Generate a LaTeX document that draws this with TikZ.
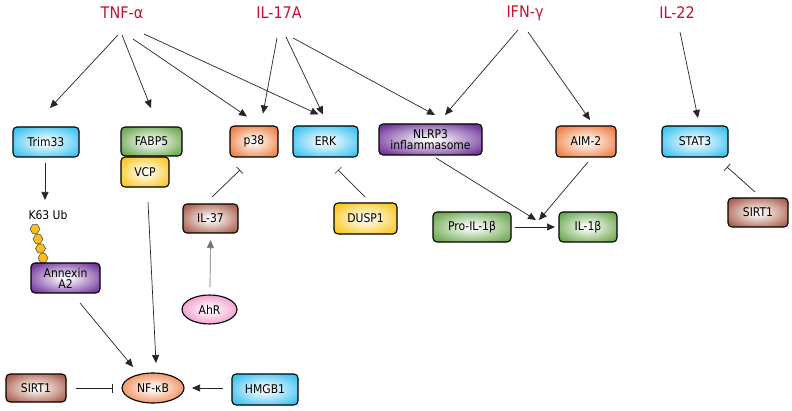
\documentclass[tikz,border=0pt]{standalone}
\usepackage{fontspec}
\setmainfont{DejaVu Sans Condensed}
\usetikzlibrary{arrows.meta,shapes.geometric}
\definecolor{cyanc}{RGB}{60,194,240}
\definecolor{greenc}{RGB}{108,168,80}
\definecolor{yellowc}{RGB}{250,198,30}
\definecolor{orangec}{RGB}{238,126,66}
\definecolor{purplec}{RGB}{116,56,156}
\definecolor{brownc}{RGB}{170,96,76}
\definecolor{pinkc}{RGB}{238,140,196}
\definecolor{redc}{RGB}{200,16,46}
\pgfdeclareradialshading{shcyan}{\pgfpoint{0bp}{0bp}}{color(0bp)=(white); color(2bp)=(white); color(31bp)=(cyanc); color(50bp)=(cyanc)}
\pgfdeclareradialshading{shgreen}{\pgfpoint{0bp}{0bp}}{color(0bp)=(white); color(2bp)=(white); color(31bp)=(greenc); color(50bp)=(greenc)}
\pgfdeclareradialshading{shyellow}{\pgfpoint{0bp}{0bp}}{color(0bp)=(white); color(2bp)=(white); color(31bp)=(yellowc); color(50bp)=(yellowc)}
\pgfdeclareradialshading{shorange}{\pgfpoint{0bp}{0bp}}{color(0bp)=(white); color(2bp)=(white); color(31bp)=(orangec); color(50bp)=(orangec)}
\pgfdeclareradialshading{shpurple}{\pgfpoint{0bp}{0bp}}{color(0bp)=(white); color(2bp)=(white); color(31bp)=(purplec); color(50bp)=(purplec)}
\pgfdeclareradialshading{shbrown}{\pgfpoint{0bp}{0bp}}{color(0bp)=(white); color(2bp)=(white); color(31bp)=(brownc); color(50bp)=(brownc)}
\pgfdeclareradialshading{shpink}{\pgfpoint{0bp}{0bp}}{color(0bp)=(white); color(2bp)=(white); color(31bp)=(pinkc); color(50bp)=(pinkc)}
\tikzset{
  box/.style={rounded corners=4pt, draw=black, line width=1.1pt, inner sep=0pt,
    font=\fontsize{12}{13}\selectfont, align=center},
  cyanbox/.style={box, shading=shcyan},
  greenbox/.style={box, shading=shgreen},
  yellowbox/.style={box, shading=shyellow},
  orangebox/.style={box, shading=shorange},
  purplebox/.style={box, shading=shpurple},
  brownbox/.style={box, shading=shbrown},
  oval/.style={ellipse, draw=black, line width=1.1pt, inner sep=0pt,
    font=\fontsize{12}{13}\selectfont},
  arr/.style={draw=black!85, line width=0.7pt, -{Triangle[length=8pt,width=7pt]}},
  inh/.style={draw=black!85, line width=0.7pt, -{Bar[width=9pt]}},
  lab/.style={text=redc, font=\fontsize{16}{18}\selectfont, inner sep=0pt},
  plain/.style={font=\fontsize{12}{13}\selectfont, inner sep=0pt},
  hexa/.style={regular polygon, regular polygon sides=6, minimum size=10pt,
    inner sep=0pt, draw=black!75, line width=0.5pt, fill=yellowc!90!orange},
}
\begin{document}
\begin{tikzpicture}[x=1pt,y=-1pt]
\fill[white] (0,0) rectangle (792,411);
\useasboundingbox (0,0) rectangle (792,411);

% top labels
\node[lab] (tnf) at (122,13) {TNF-α};
\node[lab] (il17) at (279,13) {IL-17A};
\node[lab] (ifn) at (525,13) {IFN-γ};
\node[lab] (il22) at (677,13) {IL-22};

% row 1
\node[cyanbox, minimum width=66pt, minimum height=30pt] (trim) at (46,142) {Trim33};
\node[greenbox, minimum width=61pt, minimum height=29pt] (fabp) at (151.5,141.5) {FABP5};
\node[yellowbox, minimum width=48pt, minimum height=30pt] (vcp) at (145,172) {VCP};
\node[orangebox, minimum width=48pt, minimum height=31pt] (p38) at (254,141.5) {p38};
\node[cyanbox, minimum width=65pt, minimum height=31pt] (erk) at (325.5,141.5) {ERK};
\node[purplebox, minimum width=103pt, minimum height=31pt] (nlrp) at (430.5,139.5) {NLRP3\\[-2pt]inflammasome};
\node[orangebox, minimum width=60pt, minimum height=31pt] (aim) at (586,141.5) {AIM-2};
\node[cyanbox, minimum width=66pt, minimum height=31pt] (stat) at (695,141.5) {STAT3};

% row 2
\node[plain] (k63) at (48,215) {K63 Ub};
\node[brownbox, minimum width=55pt, minimum height=29pt] (il37) at (210.5,218.5) {IL-37};
\node[yellowbox, minimum width=63pt, minimum height=31pt] (dusp) at (365.5,218.5) {DUSP1};
\node[greenbox, minimum width=78pt, minimum height=30pt] (pro) at (472,227) {Pro-IL-1β};
\node[greenbox, minimum width=58pt, minimum height=30pt] (il1b) at (588,227) {IL-1β};
\node[brownbox, minimum width=60pt, minimum height=29pt] (sirtr) at (758,212.5) {SIRT1};

% ubiquitin chain
\node[hexa] (hx1) at (35,229) {};
\node[hexa] (hx2) at (38,239) {};
\node[hexa] (hx3) at (40.5,248.5) {};
\node[hexa] (hx4) at (43,258) {};
\node[purplebox, minimum width=69pt, minimum height=30pt] (anx) at (65.5,278) {Annexin\\[-2pt]A2};

% lower
\node[oval, minimum width=55pt, minimum height=29pt, shading=shpink] (ahr) at (209.5,309.5) {AhR};
\node[oval, minimum width=62pt, minimum height=30pt, shading=shorange] (nfkb) at (153,388) {NF-κB};
\node[brownbox, minimum width=60pt, minimum height=28pt] (sirtl) at (36,388) {SIRT1};
\node[cyanbox, minimum width=66pt, minimum height=31pt] (hmgb) at (265,389.5) {HMGB1};

% TNF-alpha connectors
\draw[arr] ([shift={(-4,22)}]tnf.center) -- ([shift={(4,-34)}]trim.center);
\draw[arr] ([shift={(0,22)}]tnf.center) -- ([shift={(-0.5,-33.5)}]fabp.center);
\draw[arr] ([shift={(11,26)}]tnf.center) -- ([shift={(-7,-25)}]p38.center);
\draw[arr] ([shift={(22,21)}]tnf.center) -- ([shift={(-7,-27)}]erk.center);
% IL-17A connectors
\draw[arr] ([shift={(-2,25)}]il17.center) -- ([shift={(9,-28)}]p38.center);
\draw[arr] ([shift={(7,24)}]il17.center) -- ([shift={(-2.5,-27)}]erk.center);
\draw[arr] ([shift={(14,25)}]il17.center) -- ([shift={(4.5,-24.5)}]nlrp.center);
% IFN-gamma connectors
\draw[arr] ([shift={(-7,17)}]ifn.center) -- ([shift={(14.5,-24.5)}]nlrp.center);
\draw[arr] ([shift={(3,19)}]ifn.center) -- ([shift={(4,-21.5)}]aim.center);
% IL-22
\draw[arr] ([shift={(3,19)}]il22.center) -- ([shift={(3,-23.5)}]stat.center);

% others
\draw[arr] ([shift={(-1,21)}]trim.center) -- ([shift={(-3,-15)}]k63.center);
\draw[inh] ([shift={(1.5,-21.5)}]il37.center) -- ([shift={(-14,28.5)}]p38.center);
\draw[inh] ([shift={(-0.5,-21.5)}]dusp.center) -- ([shift={(12.5,28.5)}]erk.center);
\draw[arr, draw=black!55] ([shift={(0.5,-22.5)}]ahr.center) -- ([shift={(0,21.5)}]il37.center);
\draw[arr] ([shift={(5.5,18.5)}]nlrp.center) -- ([shift={(-52,-7)}]il1b.center);
\draw[arr] ([shift={(2,20.5)}]aim.center) -- ([shift={(-49,-7)}]il1b.center);
\draw[arr] ([shift={(43,0)}]pro.center) -- ([shift={(-33,0)}]il1b.center);
\draw[inh] ([shift={(-3,-20.5)}]sirtr.center) -- ([shift={(32,25.5)}]stat.center);
\draw[arr] ([shift={(3,30)}]vcp.center) -- ([shift={(3,-25)}]nfkb.center);
\draw[arr] ([shift={(14.5,25)}]anx.center) -- ([shift={(-20,-21)}]nfkb.center);
\draw[inh] ([shift={(40,0)}]sirtl.center) -- ([shift={(-40,0)}]nfkb.center);
\draw[arr] ([shift={(-42,-1.5)}]hmgb.center) -- ([shift={(39,0)}]nfkb.center);
\end{tikzpicture}
\end{document}
